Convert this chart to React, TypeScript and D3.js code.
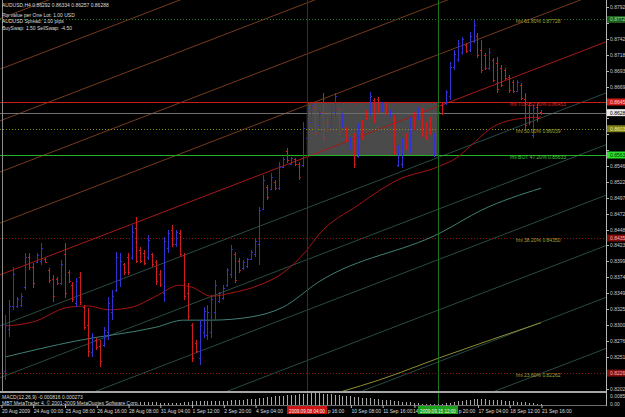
import * as d3 from "d3";

// AUDUSD H4 bars: [open, high, low, close]
const ohlc: [number, number, number, number][] = [
  [0.823, 0.8316, 0.8215, 0.83], [0.8295, 0.8339, 0.8282, 0.833], [0.833, 0.839, 0.8324, 0.838],
  [0.833, 0.8344, 0.8327, 0.834], [0.8332, 0.835, 0.8328, 0.8346], [0.836, 0.8412, 0.8355, 0.8405],
  [0.8405, 0.8412, 0.8386, 0.839], [0.839, 0.8396, 0.8358, 0.8365], [0.8398, 0.8412, 0.8396, 0.8408],
  [0.84, 0.8427, 0.8393, 0.842], [0.8403, 0.8404, 0.8396, 0.8398], [0.8386, 0.8389, 0.8365, 0.837],
  [0.8372, 0.8378, 0.8336, 0.8345], [0.8372, 0.8375, 0.8362, 0.8365], [0.8365, 0.8401, 0.8362, 0.8395],
  [0.841, 0.8427, 0.8342, 0.835], [0.8383, 0.8386, 0.8365, 0.8368], [0.8362, 0.8367, 0.8336, 0.834],
  [0.8335, 0.8373, 0.8328, 0.8368], [0.8375, 0.8382, 0.8331, 0.8336], [0.8328, 0.8331, 0.8293, 0.8298],
  [0.83, 0.8327, 0.8251, 0.826], [0.8258, 0.8288, 0.8251, 0.8282], [0.8278, 0.828, 0.8262, 0.8266],
  [0.8268, 0.8277, 0.8236, 0.8245], [0.827, 0.8297, 0.8266, 0.8292], [0.829, 0.8344, 0.8277, 0.8335],
  [0.832, 0.8355, 0.8308, 0.8345], [0.8355, 0.8413, 0.8352, 0.8405], [0.837, 0.8412, 0.8359, 0.84],
  [0.8395, 0.8396, 0.8378, 0.8382], [0.8405, 0.8412, 0.8378, 0.8382], [0.8405, 0.8455, 0.8401, 0.8445],
  [0.845, 0.8467, 0.8396, 0.84], [0.8416, 0.8421, 0.8396, 0.84], [0.8412, 0.8416, 0.8393, 0.8396],
  [0.8405, 0.844, 0.8401, 0.8432], [0.841, 0.8412, 0.839, 0.8395], [0.8398, 0.8401, 0.8362, 0.8368],
  [0.838, 0.8386, 0.8359, 0.8364], [0.835, 0.8437, 0.8336, 0.843], [0.842, 0.8447, 0.8412, 0.8442],
  [0.8448, 0.8455, 0.8421, 0.8425], [0.8425, 0.8447, 0.8421, 0.8444], [0.8442, 0.8447, 0.8406, 0.841],
  [0.8408, 0.8412, 0.8339, 0.8345], [0.835, 0.8365, 0.8308, 0.8315], [0.83, 0.8304, 0.8243, 0.825],
  [0.8273, 0.8277, 0.8257, 0.826], [0.825, 0.8308, 0.8239, 0.83], [0.829, 0.8328, 0.828, 0.8322],
  [0.8285, 0.8331, 0.8277, 0.832], [0.829, 0.8347, 0.828, 0.834], [0.832, 0.837, 0.8308, 0.8362],
  [0.8337, 0.8352, 0.8335, 0.835], [0.8342, 0.8362, 0.8339, 0.8358], [0.8362, 0.8389, 0.8359, 0.8385],
  [0.838, 0.8424, 0.8373, 0.8418], [0.841, 0.8413, 0.8365, 0.837], [0.84, 0.8404, 0.8381, 0.8385],
  [0.8388, 0.8401, 0.8386, 0.8398], [0.8391, 0.8404, 0.8389, 0.8402], [0.8403, 0.8416, 0.8401, 0.8414],
  [0.841, 0.8435, 0.8406, 0.843], [0.8425, 0.8483, 0.8393, 0.8478], [0.848, 0.8532, 0.8478, 0.8525],
  [0.8514, 0.8517, 0.8494, 0.8498], [0.851, 0.8535, 0.8509, 0.853], [0.8522, 0.8525, 0.8509, 0.8512],
  [0.8512, 0.8552, 0.8509, 0.8545], [0.8545, 0.856, 0.8543, 0.8557], [0.857, 0.8574, 0.8551, 0.8555],
  [0.855, 0.856, 0.8548, 0.8558], [0.8557, 0.8559, 0.8546, 0.855], [0.855, 0.8552, 0.8525, 0.853],
  [0.8548, 0.8614, 0.8545, 0.8605], [0.859, 0.8642, 0.8571, 0.8635], [0.8615, 0.8644, 0.861, 0.864],
  [0.8636, 0.8641, 0.8591, 0.8598], [0.861, 0.8633, 0.8607, 0.8628], [0.863, 0.8659, 0.8583, 0.859],
  [0.8615, 0.862, 0.8599, 0.8602], [0.8608, 0.8641, 0.8605, 0.8636], [0.863, 0.8659, 0.8622, 0.8655],
  [0.8635, 0.8638, 0.8594, 0.86], [0.8606, 0.8628, 0.8605, 0.8625], [0.8605, 0.8607, 0.8583, 0.8587],
  [0.8574, 0.8591, 0.8571, 0.8588], [0.8592, 0.8597, 0.8543, 0.855], [0.8562, 0.8613, 0.8559, 0.8608],
  [0.8614, 0.8617, 0.8587, 0.8592], [0.863, 0.8633, 0.8617, 0.862], [0.8627, 0.8661, 0.8625, 0.8655],
  [0.8648, 0.8651, 0.8613, 0.8618], [0.865, 0.8653, 0.8628, 0.8632], [0.8632, 0.8645, 0.863, 0.8642],
  [0.8643, 0.8645, 0.8625, 0.8628], [0.8624, 0.8633, 0.8622, 0.8631], [0.8622, 0.8625, 0.8563, 0.857],
  [0.8548, 0.8579, 0.8545, 0.8575], [0.855, 0.859, 0.8543, 0.8585], [0.8594, 0.8597, 0.8571, 0.8575],
  [0.857, 0.8622, 0.8566, 0.8615], [0.8626, 0.863, 0.8602, 0.8606], [0.862, 0.8638, 0.8617, 0.8634],
  [0.8632, 0.8636, 0.8591, 0.8596], [0.861, 0.8614, 0.8587, 0.859], [0.8618, 0.8622, 0.8594, 0.8598],
  [0.8565, 0.8597, 0.856, 0.8592], [0.8592, 0.8638, 0.8585, 0.863], [0.864, 0.8645, 0.8625, 0.8628],
  [0.8643, 0.8664, 0.8641, 0.866], [0.8655, 0.8707, 0.8648, 0.87], [0.87, 0.8726, 0.8695, 0.872],
  [0.8712, 0.8741, 0.8707, 0.8736], [0.8722, 0.8746, 0.8718, 0.8742], [0.8734, 0.8736, 0.8721, 0.8724],
  [0.8726, 0.8753, 0.8723, 0.8748], [0.874, 0.8772, 0.8736, 0.8765], [0.8748, 0.8752, 0.8713, 0.8718],
  [0.8725, 0.8741, 0.869, 0.8695], [0.8718, 0.8721, 0.8695, 0.8698], [0.8698, 0.8729, 0.8695, 0.8722],
  [0.871, 0.8713, 0.8676, 0.868], [0.8705, 0.8715, 0.8659, 0.8665], [0.8698, 0.8702, 0.8668, 0.8672],
  [0.8695, 0.8698, 0.8679, 0.8682], [0.8684, 0.8687, 0.8659, 0.8664], [0.8676, 0.8679, 0.8659, 0.8662],
  [0.8663, 0.8679, 0.8661, 0.8676], [0.8672, 0.8675, 0.8648, 0.8652], [0.865, 0.8659, 0.8602, 0.861],
  [0.864, 0.8644, 0.861, 0.8615], [0.8595, 0.8641, 0.859, 0.8636], [0.8638, 0.8642, 0.8614, 0.862],
  [0.86292, 0.86334, 0.86257, 0.86288],
];

// moving averages, sampled points [bar, price]
const redMa: [number, number][] = [
  [0, 0.8299], [7, 0.8305], [16, 0.8328], [21, 0.833], [26, 0.8324], [32, 0.8328], [38, 0.8345],
  [44, 0.8362], [47, 0.8359], [52, 0.8345], [57, 0.835], [64, 0.8362], [70, 0.8381], [76, 0.8416],
  [79, 0.844], [89, 0.8486], [99, 0.8525], [109, 0.8545], [114, 0.856], [117, 0.8576], [123, 0.8607],
  [129, 0.8619], [135, 0.8622],
];
const tealMa: [number, number][] = [
  [0, 0.8251], [18, 0.8276], [38, 0.8297], [45, 0.8308], [52, 0.8308], [62, 0.8313], [70, 0.8328],
  [79, 0.8367], [110, 0.8444], [120, 0.8478], [135, 0.8512],
];
const oliveMa: [number, number][] = [[85, 0.8198], [94, 0.8215], [110, 0.8251], [135, 0.8304]];

// parallel channel: price of each line at bar 0, common slope per bar
const channelBase = [0.8777, 0.8699, 0.8619, 0.854, 0.8461, 0.8381, 0.8302, 0.8222, 0.8144, 0.8066, 0.7986, 0.7907];
const channelSlope = 0.000236;

const fibLevels = [0.87728, 0.86453, 0.86039, 0.85633, 0.8435, 0.82262];
const fibLabels = [
  "fmi 61.80%  0.87728", "fmi TOP 52.80%  0.86453", "fmi 50.00%  0.86039",
  "fmi BOT 47.20%  0.85633", "fmi 38.20%  0.84350", "fmi 23.60%  0.82262",
];
const currentPrice = 0.86288;

const priceTicks = [
  0.8792, 0.87675, 0.87425, 0.8718, 0.86935, 0.8669, 0.86445, 0.862, 0.85955, 0.8571, 0.8546, 0.8522,
  0.84975, 0.84725, 0.8448, 0.84235, 0.8399, 0.8374, 0.83495, 0.8325, 0.83005, 0.8276, 0.8251, 0.82265, 0.8202,
];

// time labels every 8 bars; the ones under the marker boxes show only their visible part
const timeLabels = [
  "20 Aug 2009", "24 Aug 00:00", "25 Aug 08:00", "26 Aug 16:00", "28 Aug 08:00", "31 Aug 04:00",
  "1 Sep 12:00", "2 Sep 20:00", "4 Sep 04:00", "", "p 16:00", "10 Sep 08:00",
  "11 Sep 16:00", "14", "p 20:00", "17 Sep 04:00", "18 Sep 12:00", "21 Sep 16:00",
];

// vertical markers and the box between them
const markerBars = [76, 109];
const markerLabels = ["2009.09.08 04:00", "2009.09.15 12:00"];

const macdStart = 34;
const macd = [
  0.00236, 0.00236, 0.00215, 0.00215, 0.00193, 0.00164, 0.00164,
  0.00143, 0.00122, 0.00122, 0.00143, 0.00193, 0.00236,
  0.00286, 0.00307, 0.00307, 0.00307, 0.00286, 0.00286, 0.00307, 0.00307, 0.00286, 0.00307, 0.00336, 0.00358, 0.00358, 0.00379,
  0.00408, 0.00429, 0.0045, 0.00479, 0.00522, 0.00551, 0.00593, 0.00622, 0.00644, 0.00665, 0.00694, 0.00715,
  0.00736, 0.00765, 0.00787, 0.00808, 0.00837, 0.00837, 0.00837, 0.00808,
  0.00787, 0.00758, 0.00729, 0.00701, 0.00672, 0.00644, 0.00615, 0.00586, 0.00558, 0.00529, 0.00501, 0.00472,
  0.00443, 0.00415, 0.00386, 0.00358, 0.00329, 0.003, 0.00272, 0.00243, 0.00215, 0.00186, 0.00157, 0.00129,
  0.00107, 0.00093, 0.00072, 0.00072, 0.00072, 0.00093,
  0.00129, 0.00172, 0.00215, 0.00257, 0.003, 0.00343, 0.00379, 0.00408, 0.00429,
  0.00429, 0.00415, 0.00393, 0.00372, 0.0035, 0.00329, 0.00307, 0.00286, 0.00257, 0.00236, 0.00207,
  0.00186, 0.00157, 0.00136, 0.00107, 0.00086,
];

const header = [
  "AUDUSD,H4  0.86292 0.86334 0.86257 0.86288",
  "Pip value per One Lot: 1.00 USD",
  "AUDUSD Spread:  1.00 pips",
  "BuySwap:  1.50    SellSwap:  -4.50",
];

export default function App() {
  const W = 625;
  const H = 417;
  const right = 606;
  const mainBottom = 391;
  const font = "'Liberation Sans', Arial, sans-serif";

  const x = d3.scaleLinear().domain([0, ohlc.length - 1]).range([5, 541]);
  const y = d3.scaleLinear().domain([0.82, 0.88]).range([390, 1.9]);
  const ym = d3.scaleLinear().domain([0, 0.00858]).range([405, 393]);
  const fmt = d3.format(".5f");
  const px = (i: number) => Math.round(x(i));

  const maLine = d3
    .line<[number, number]>()
    .x((d) => x(d[0]))
    .y((d) => y(d[1]))
    .curve(d3.curveMonotoneX);

  const fibColors = ["#1f7a1f", "#cc1a1a", "#8c8c20", "#22b422", "#8e1010", "#8e1010"];
  const fibDash = ["1,2", null, "1,2", null, "1,2", "1,2"];
  const fibText = ["#a3a33a", "#e02626", "#a3a33a", "#3ad03a", "#a3a33a", "#a3a33a"];
  const fibBoxBg = ["#1e5c1e", "#d21c1c", "#7e7e18", "#2ee02e", "#7e0c0c", "#7e0c0c"];
  const fibBoxFg = ["#a0e0a0", "#ffd0d0", "#f0f0a0", "#003000", "#ffb0b0", "#ffb0b0"];
  const fibTextX = [516, 510, 516, 510, 516, 516];
  const labelShift = [0, 0, 0, 0, 0, 0, 0, 0, 0, 0, 8, 0, 0, -2, 12, 0, 0, 0];

  // price-axis tick labels that sit under a level box are hidden by it
  const boxPrices = [...fibLevels, currentPrice];
  const freeTicks = priceTicks.filter((p) => boxPrices.every((b) => Math.abs(y(b) - y(p)) > 6));

  const channelColor = (k: number) => (k < 5 ? "#743a1c" : k === 5 ? "#a81818" : "#284b43");

  return (
    <svg
      width={W}
      height={H}
      style={{ position: "absolute", left: 0, top: 0, background: "#000" }}
      fontFamily={font}
    >
      <defs>
        <clipPath id="plot">
          <rect x={0} y={0} width={right} height={mainBottom} />
        </clipPath>
      </defs>
      <rect width={W} height={H} fill="#000" />

      <g clipPath="url(#plot)">
        {/* box between the markers */}
        <rect
          x={x(markerBars[0])}
          y={y(fibLevels[1])}
          width={x(markerBars[1]) - x(markerBars[0])}
          height={y(fibLevels[3]) - y(fibLevels[1])}
          fill="#4a4a4a"
        />

        {channelBase.map((c, k) => (
          <line
            key={k}
            x1={x(-4)}
            y1={y(c - 4 * channelSlope)}
            x2={x(155)}
            y2={y(c + 155 * channelSlope)}
            stroke={channelColor(k)}
            strokeWidth={1}
          />
        ))}

        {fibLevels.map((p, i) => (
          <line
            key={i}
            x1={0}
            x2={right}
            y1={Math.round(y(p)) + 0.5}
            y2={Math.round(y(p)) + 0.5}
            stroke={fibColors[i]}
            strokeDasharray={fibDash[i] ?? undefined}
          />
        ))}
        <line
          x1={0}
          x2={right}
          y1={Math.round(y(currentPrice)) + 0.5}
          y2={Math.round(y(currentPrice)) + 0.5}
          stroke="#6e6e6e"
        />
        <line x1={2.5} x2={2.5} y1={0} y2={mainBottom} stroke="#8a8a8a" />

        <path d={maLine(oliveMa) ?? ""} fill="none" stroke="#8e8e2e" />
        <path d={maLine(tealMa) ?? ""} fill="none" stroke="#3f8077" />
        <path d={maLine(redMa) ?? ""} fill="none" stroke="#a81414" />

        <g shapeRendering="crispEdges">
          {ohlc.map(([o, h, l, c], i) => {
            const col = c >= o ? "#3232d2" : "#d01c1c";
            const bx = px(i);
            const top = Math.round(y(h));
            const bot = Math.max(Math.round(y(l)), top + 1);
            return (
              <g key={i} fill={col}>
                <rect x={bx} y={top} width={1} height={bot - top} />
                <rect x={bx - 1} y={Math.round(y(o))} width={1} height={1} />
                <rect x={bx + 1} y={Math.round(y(c))} width={1} height={1} />
              </g>
            );
          })}
        </g>

        {fibLabels.map((t, i) => (
          <text key={i} x={fibTextX[i]} y={y(fibLevels[i]) + 4} fontSize={5} fill={fibText[i]}>
            {t}
          </text>
        ))}
      </g>

      {/* vertical markers through both windows */}
      <line x1={px(markerBars[0]) + 0.5} x2={px(markerBars[0]) + 0.5} y1={0} y2={405} stroke="#7a1010" />
      <line x1={px(markerBars[1]) + 0.5} x2={px(markerBars[1]) + 0.5} y1={0} y2={405} stroke="#177517" />

      {/* header text */}
      {header.map((t, i) => (
        <text key={i} x={2} y={[7, 17, 23, 30][i]} fontSize={5} fill="#dcdcdc">
          {t}
        </text>
      ))}

      {/* MACD window */}
      <rect x={0} y={391} width={right} height={2} fill="#a6a6a6" />
      <g shapeRendering="crispEdges">
        {macd.map((v, j) => (
          <rect
            key={j}
            x={px(macdStart + j)}
            y={ym(v)}
            width={1}
            height={ym(0) - ym(v)}
            fill="#a8a8a8"
          />
        ))}
      </g>
      <text x={2} y={399} fontSize={5} fill="#dcdcdc">
        MACD(12,26,9) -0.000816 0.000273
      </text>
      <text x={2} y={405} fontSize={5} fill="#dcdcdc">
        MBT MetaTrader 4, © 2001-2009 MetaQuotes Software Corp.
      </text>

      {/* price axis */}
      <line x1={right + 0.5} x2={right + 0.5} y1={0} y2={406} stroke="#b4b4b4" />
      {priceTicks.map((p, i) => (
        <line
          key={i}
          x1={right}
          x2={right + 3}
          y1={Math.round(y(p)) + 0.5}
          y2={Math.round(y(p)) + 0.5}
          stroke="#b4b4b4"
        />
      ))}
      {freeTicks.map((p, i) => (
        <text key={i} x={right + 4} y={y(p) + 2} fontSize={5} fill="#c8c8c8">
          {fmt(p)}
        </text>
      ))}
      {fibLevels.map((p, i) => (
        <g key={i}>
          <rect x={right + 1} y={y(p) - 3.5} width={20} height={7} fill={fibBoxBg[i]} />
          <text x={right + 4} y={y(p) + 2} fontSize={5} fill={fibBoxFg[i]}>
            {fmt(p)}
          </text>
        </g>
      ))}
      <rect x={right + 1} y={y(currentPrice) - 3.5} width={20} height={7} fill="#e8e8e8" />
      <text x={right + 4} y={y(currentPrice) + 2} fontSize={5} fill="#000">
        {fmt(currentPrice)}
      </text>
      <text x={right + 4} y={398} fontSize={5} fill="#c8c8c8">0.00858</text>
      <text x={right + 4} y={406} fontSize={5} fill="#c8c8c8">0.00</text>

      {/* time axis */}
      <line x1={0} x2={right} y1={405.5} y2={405.5} stroke="#6a6a6a" />
      {timeLabels.map((t, k) =>
        t ? (
          <g key={k}>
            <line x1={x(k * 8) - 3} x2={x(k * 8) - 3} y1={405} y2={408} stroke="#b4b4b4" />
            <text x={x(k * 8) - 3 + labelShift[k]} y={413} fontSize={5} fill="#dcdcdc">
              {t}
            </text>
          </g>
        ) : null
      )}
      {markerBars.map((b, i) => (
        <g key={i}>
          <rect x={px(b) - 20} y={406} width={40} height={8} fill={i === 0 ? "#cc1414" : "#1aa01a"} />
          <text x={px(b)} y={412.5} fontSize={4.6} fill="#f0f0f0" textAnchor="middle">
            {markerLabels[i]}
          </text>
        </g>
      ))}
    </svg>
  );
}
